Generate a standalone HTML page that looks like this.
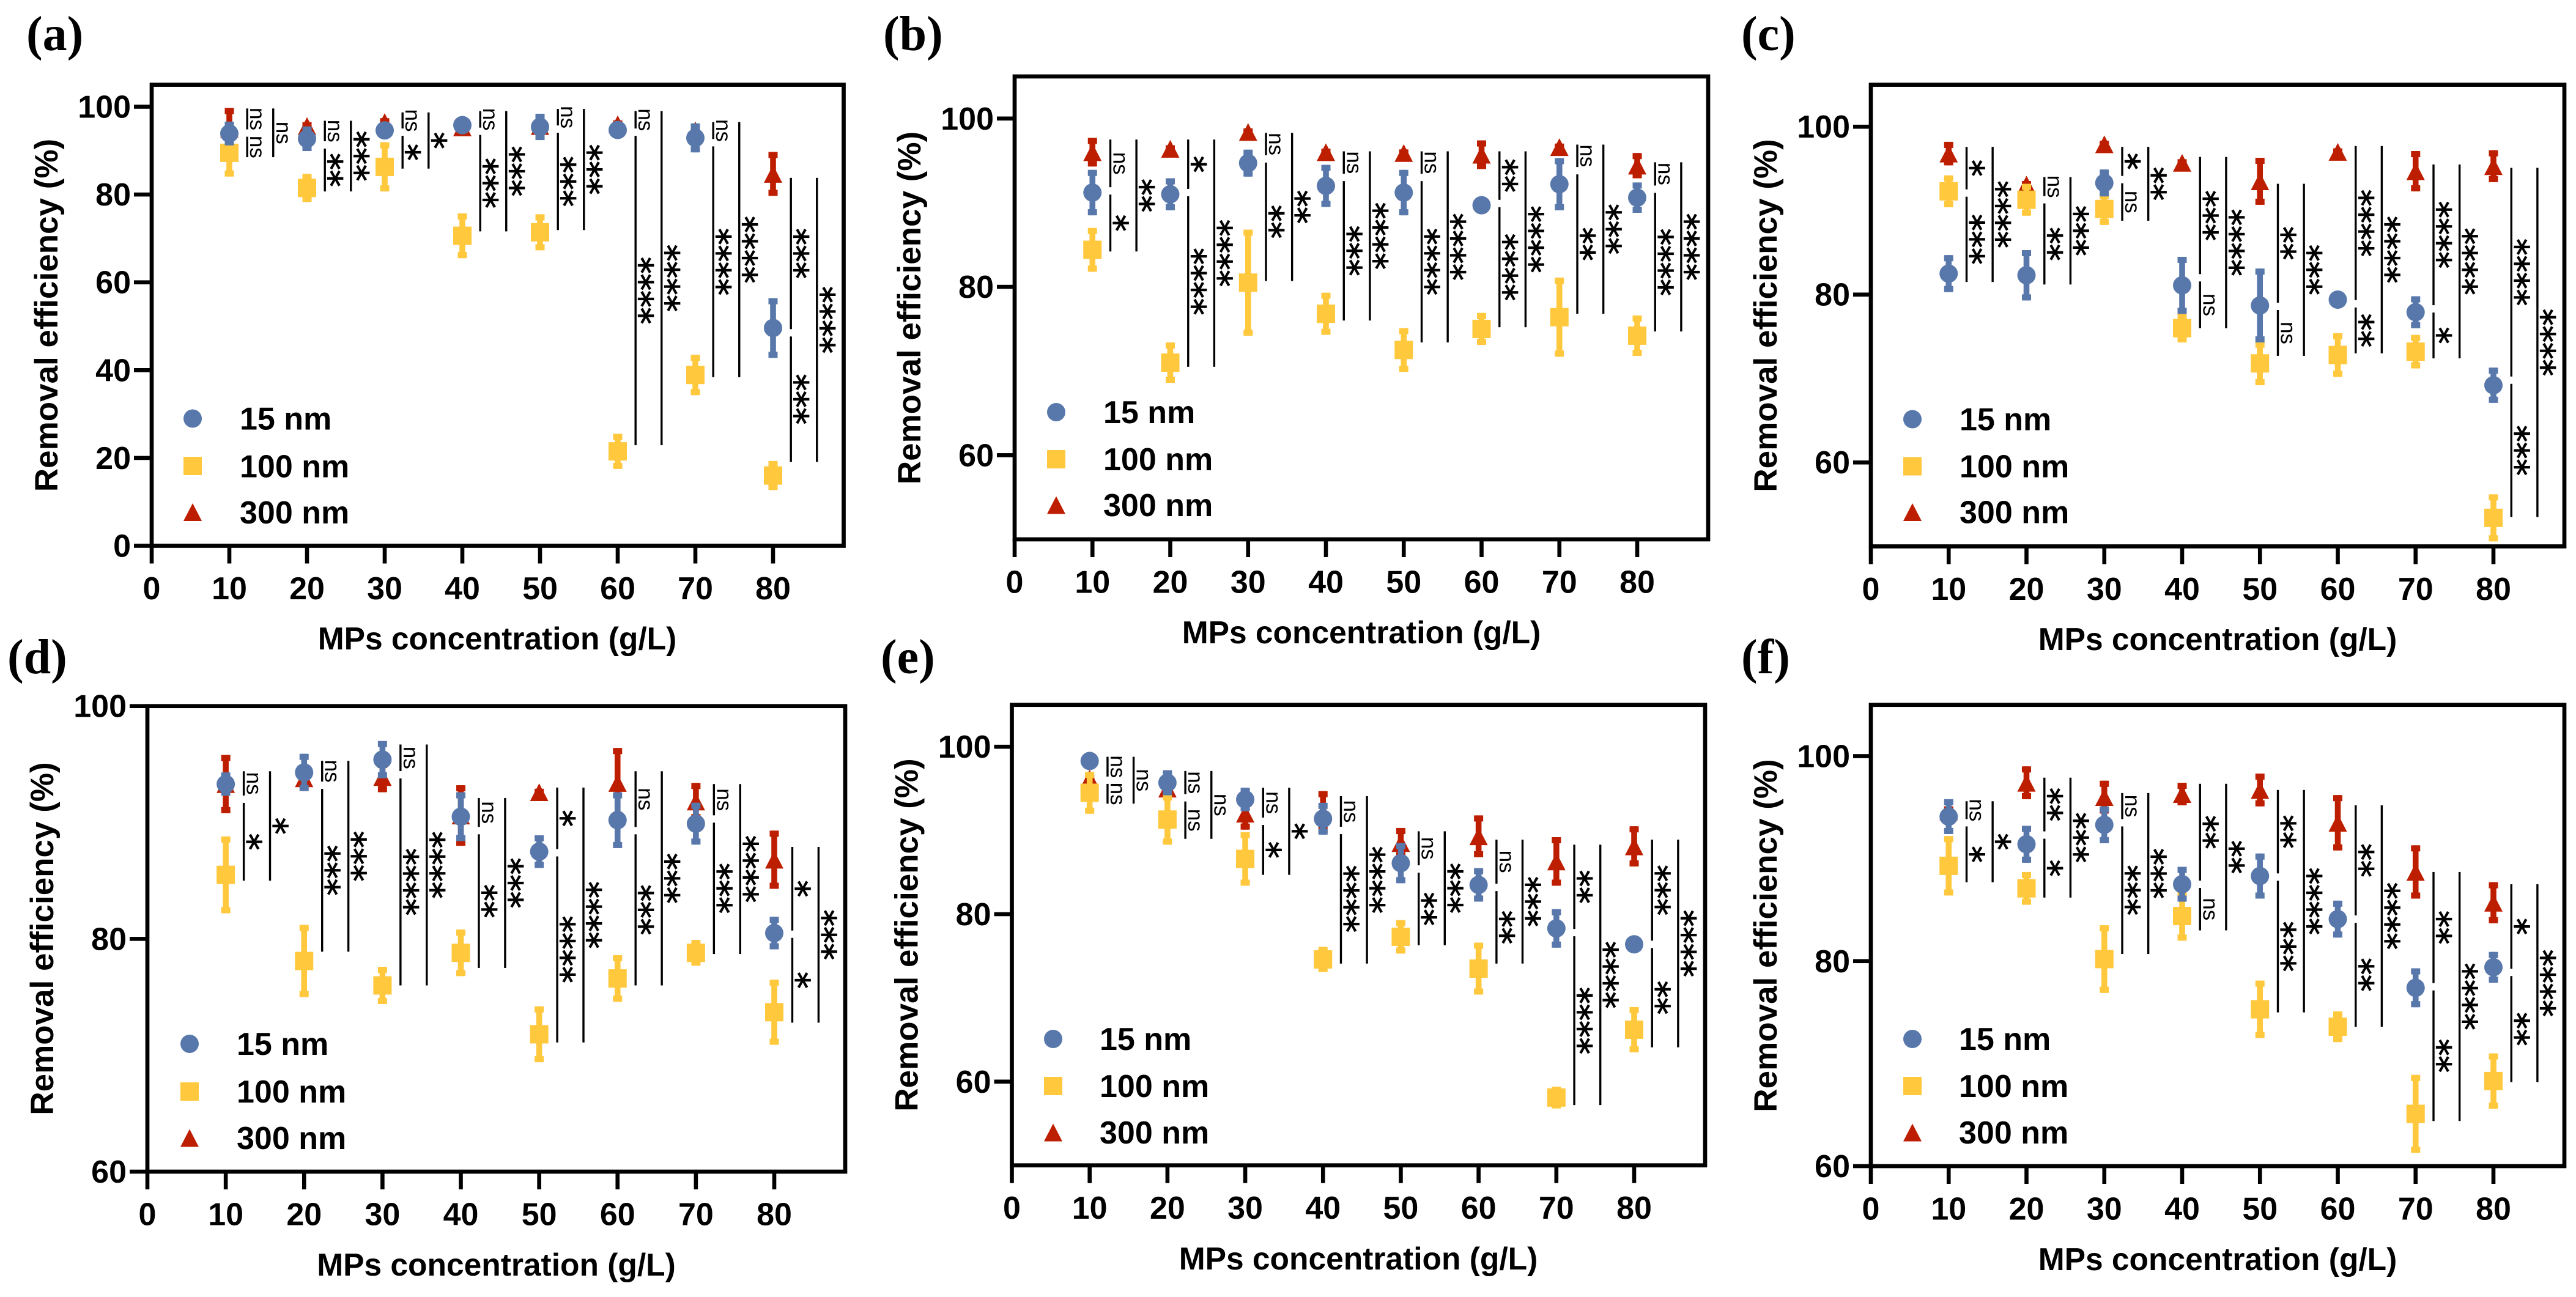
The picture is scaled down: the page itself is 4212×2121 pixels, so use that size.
<!DOCTYPE html>
<html lang="en">
<head>
<meta charset="utf-8">
<title>Removal efficiency versus MPs concentration</title>
<style>
html,body{margin:0;padding:0;background:#fff}
svg{display:block}
text{font-family:"Liberation Sans",Arial,sans-serif}
.title-x{font-size:51.5px;font-weight:700;fill:#000}
.title-y{font-size:53px;font-weight:700;fill:#000}
.legend-label{font-size:52px;font-weight:700;fill:#000}
.tick-label{font-size:52px;font-weight:700;fill:#000}
.panel-label{font-family:"Liberation Serif",serif;font-size:80px;font-weight:700;fill:#000}
.frame{fill:none;stroke:#000;stroke-width:6.7}
.ns{font-size:35px;fill:#000}
.stars{font-family:"DejaVu Sans",sans-serif;font-size:55px;fill:#000;stroke:#000;stroke-width:1.3}
</style>
</head>
<body>
<svg id="figure" xmlns="http://www.w3.org/2000/svg" width="4212" height="2121" viewBox="0 0 4212 2121">
<rect width="4212" height="2121" fill="#fff"/>

<g id="panel-a">
<text class="panel-label" x="43" y="82">(a)</text>
<rect class="frame" x="248" y="138.6" width="1131.5" height="753.9"/>
<text class="title-y" text-anchor="middle" transform="translate(94,515.5) rotate(-90)">Removal efficiency (%)</text>
<text class="title-x" text-anchor="middle" x="813" y="1062">MPs concentration (g/L)</text>
<g>
<circle cx="315" cy="684.5" r="15" fill="#5878AC"/>
<text class="legend-label" x="392" y="702.5">15 nm</text>
<rect x="300" y="747" width="30" height="30" fill="#FFC83D"/>
<text class="legend-label" x="392" y="780.5">100 nm</text>
<polygon points="315,823 330,852 300,852" fill="#BE1E00"/>
<text class="legend-label" x="392" y="856">300 nm</text>
</g>
</g>

<g id="panel-b">
<text class="panel-label" x="1444" y="82">(b)</text>
<rect class="frame" x="1659" y="125" width="1134" height="757"/>
<text class="title-y" text-anchor="middle" transform="translate(1505,503.5) rotate(-90)">Removal efficiency (%)</text>
<text class="title-x" text-anchor="middle" x="2226" y="1052">MPs concentration (g/L)</text>
<g>
<circle cx="1727" cy="674" r="15" fill="#5878AC"/>
<text class="legend-label" x="1804" y="692">15 nm</text>
<rect x="1712" y="736" width="30" height="30" fill="#FFC83D"/>
<text class="legend-label" x="1804" y="769">100 nm</text>
<polygon points="1727,811.5 1742,840.5 1712,840.5" fill="#BE1E00"/>
<text class="legend-label" x="1804" y="844">300 nm</text>
</g>
</g>

<g id="panel-c">
<text class="panel-label" x="2847" y="82">(c)</text>
<rect class="frame" x="3059" y="138.6" width="1134" height="754.9"/>
<text class="title-y" text-anchor="middle" transform="translate(2905,516) rotate(-90)">Removal efficiency (%)</text>
<text class="title-x" text-anchor="middle" x="3626" y="1063">MPs concentration (g/L)</text>
<g>
<circle cx="3127" cy="685.5" r="15" fill="#5878AC"/>
<text class="legend-label" x="3204" y="703.5">15 nm</text>
<rect x="3112" y="747.5" width="30" height="30" fill="#FFC83D"/>
<text class="legend-label" x="3204" y="780.5">100 nm</text>
<polygon points="3127,823 3142,852 3112,852" fill="#BE1E00"/>
<text class="legend-label" x="3204" y="855.5">300 nm</text>
</g>
</g>

<g id="panel-d">
<text class="panel-label" x="12" y="1101">(d)</text>
<rect class="frame" x="241" y="1154.7" width="1141" height="761.3"/>
<text class="title-y" text-anchor="middle" transform="translate(87,1535) rotate(-90)">Removal efficiency (%)</text>
<text class="title-x" text-anchor="middle" x="811.5" y="2086">MPs concentration (g/L)</text>
<g>
<circle cx="310" cy="1707" r="15" fill="#5878AC"/>
<text class="legend-label" x="387" y="1725">15 nm</text>
<rect x="295" y="1770" width="30" height="30" fill="#FFC83D"/>
<text class="legend-label" x="387" y="1803">100 nm</text>
<polygon points="310,1846.5 325,1875.5 295,1875.5" fill="#BE1E00"/>
<text class="legend-label" x="387" y="1879">300 nm</text>
</g>
</g>

<g id="panel-e">
<text class="panel-label" x="1440" y="1101">(e)</text>
<rect class="frame" x="1654.5" y="1152.7" width="1133.5" height="753"/>
<text class="title-y" text-anchor="middle" transform="translate(1500.5,1529) rotate(-90)">Removal efficiency (%)</text>
<text class="title-x" text-anchor="middle" x="2221" y="2076">MPs concentration (g/L)</text>
<g>
<circle cx="1722" cy="1699" r="15" fill="#5878AC"/>
<text class="legend-label" x="1798" y="1717">15 nm</text>
<rect x="1707" y="1761" width="30" height="30" fill="#FFC83D"/>
<text class="legend-label" x="1798" y="1794">100 nm</text>
<polygon points="1722,1837.5 1737,1866.5 1707,1866.5" fill="#BE1E00"/>
<text class="legend-label" x="1798" y="1870">300 nm</text>
</g>
</g>

<g id="panel-f">
<text class="panel-label" x="2847" y="1101">(f)</text>
<rect class="frame" x="3059" y="1152.7" width="1134" height="754.3"/>
<text class="title-y" text-anchor="middle" transform="translate(2905,1530) rotate(-90)">Removal efficiency (%)</text>
<text class="title-x" text-anchor="middle" x="3626" y="2077">MPs concentration (g/L)</text>
<g>
<circle cx="3127" cy="1699" r="15" fill="#5878AC"/>
<text class="legend-label" x="3203" y="1717">15 nm</text>
<rect x="3112" y="1761" width="30" height="30" fill="#FFC83D"/>
<text class="legend-label" x="3203" y="1794">100 nm</text>
<polygon points="3127,1837.5 3142,1866.5 3112,1866.5" fill="#BE1E00"/>
<text class="legend-label" x="3203" y="1870">300 nm</text>
</g>
</g>
</svg>

<script>
// Shared categories and x ticks
const categories = [10, 20, 30, 40, 50, 60, 70, 80];
const xTicks = [0, 10, 20, 30, 40, 50, 60, 70, 80];
const yTicksA = [0, 20, 40, 60, 80, 100];
const yTicksOther = [60, 80, 100];

// Panel (a)
const a15Mean = [93.9, 92.7, 94.6, 95.8, 95.4, 94.7, 92.9, 49.6];
const a15Err = [2.7, 2.8, 1, 0.5, 3, 0.5, 3.3, 6.8];
const a100Mean = [89.5, 81.5, 86.3, 70.6, 71.4, 21.5, 38.9, 16];
const a100Err = [5.4, 3.2, 5.6, 5.1, 4.1, 4, 4.6, 3.3];
const a300Mean = [95, 95.6, 96.5, 95.3, 95.6, 96, 94.6, 84.7];
const a300Err = [4.7, 0.5, 0.5, 0.5, 0.5, 0.5, 1, 5];
const aSigTop = [99.6, 96.8, 98.7, 99, 99.5, 99, 96.5, 83.8];
const aSigSplit = [94, 91.3, 94.2, 94.4, 94.9, 94.2, 91.8, 48.5];
const aSigBottom = [88.5, 80.7, 85.9, 71.6, 71.9, 22.9, 38.4, 19.1];
const aSigUpper = ['ns', 'ns', 'ns', 'ns', 'ns', 'ns', 'ns', '***'];
const aSigLower = ['ns', '**', '*', '***', '***', '****', '****', '***'];
const aSigOuter = ['ns', '***', '*', '***', '***', '****', '****', '****'];

// Panel (b)
const b15Mean = [91.2, 91, 94.7, 92, 91.2, 89.7, 92.2, 90.6];
const b15Err = [2.7, 1.9, 1.6, 2.5, 2.7, 0.3, 3.1, 1.8];
const b100Mean = [84.4, 71, 80.5, 76.8, 72.5, 75, 76.4, 74.2];
const b100Err = [2.6, 2.4, 6.3, 2.5, 2.6, 1.9, 4.7, 2.4];
const b300Mean = [96, 96.4, 98.4, 96, 95.9, 95.7, 96.6, 94.4];
const b300Err = [1.7, 0.3, 0.3, 0.3, 0.3, 1.7, 0.3, 1.5];
const bSigTop = [97.5, 97.5, 98.3, 96.1, 96.1, 96.1, 96.9, 94.8];
const bSigSplit = [91.4, 91.2, 95.2, 93, 93, 89.9, 93.8, 91.6];
const bSigBottom = [84.2, 70.5, 80.7, 76, 73.4, 75.2, 76.8, 74.7];
const bSigUpper = ['ns', '*', 'ns', 'ns', 'ns', '**', 'ns', 'ns'];
const bSigLower = ['*', '****', '**', '***', '****', '****', '**', '****'];
const bSigOuter = ['**', '****', '**', '****', '****', '****', '***', '****'];

// Panel (c)
const c15Mean = [82.5, 82.3, 93.3, 81.1, 78.7, 79.4, 77.9, 69.2];
const c15Err = [2.2, 3, 1.6, 3.4, 4.4, 0.3, 1.9, 2.1];
const c100Mean = [92.3, 91.3, 90.2, 76, 71.8, 72.8, 73.2, 53.4];
const c100Err = [1.9, 1.9, 1.9, 1.7, 2.6, 2.6, 2, 2.8];
const c300Mean = [96.8, 93.1, 97.9, 95.7, 93.5, 97, 94.7, 95.3];
const c300Err = [1.4, 0.3, 0.3, 0.3, 2.8, 0.3, 2.4, 1.9];
const cSigTop = [97.6, 94, 97.6, 96.4, 93.2, 97.7, 95.5, 95.1];
const cSigSplit = [92.1, 91.3, 93.7, 82, 78.6, 78.9, 78.3, 69.8];
const cSigBottom = [81.5, 81.2, 88.8, 76, 72.7, 73, 72.4, 53.5];
const cSigUpper = ['*', 'ns', '*', '***', '**', '****', '****', '****'];
const cSigLower = ['***', '**', 'ns', 'ns', 'ns', '**', '*', '***'];
const cSigOuter = ['****', '***', '**', '****', '***', '****', '****', '****'];

// Panel (d)
const d15Mean = [93.3, 94.3, 95.4, 90.5, 87.5, 90.2, 89.9, 80.5];
const d15Err = [1, 1.6, 1.6, 2.1, 1.4, 2.4, 1.8, 1.4];
const d100Mean = [85.5, 78.1, 76, 78.8, 71.8, 76.6, 78.8, 73.7];
const d100Err = [3.3, 3.1, 1.6, 2, 2.4, 2, 1.1, 2.8];
const d300Mean = [93.3, 93.8, 93.9, 90.6, 92.6, 93.4, 91.8, 86.8];
const d300Err = [2.5, 0.5, 1.3, 2.6, 0.3, 3, 1.6, 2.5];
const dSigTop = [94.4, 95.3, 96.7, 92.1, 93, 94.4, 93.3, 87.9];
const dSigSplit = [92, 93.2, 94.1, 89.3, 87.4, 89.3, 90.3, 80.4];
const dSigBottom = [85, 78.9, 76, 77.5, 71.1, 76, 78.7, 72.8];
const dSigUpper = ['ns', 'ns', 'ns', 'ns', '*', 'ns', 'ns', '*'];
const dSigLower = ['*', '***', '****', '**', '****', '***', '***', '*'];
const dSigOuter = ['*', '***', '****', '***', '****', '***', '****', '***'];

// Panel (e)
const e15Mean = [98.3, 95.7, 93.7, 91.4, 86.1, 83.5, 78.3, 76.4];
const e15Err = [0.3, 1.5, 1.4, 1.9, 2.4, 2, 2.3, 0.3];
const e100Mean = [94.5, 91.3, 86.6, 74.6, 77.3, 73.5, 58.1, 66.2];
const e100Err = [2.5, 3, 3.2, 1.5, 2, 3.1, 1.3, 2.7];
const e300Mean = [96.2, 95, 92, 92.2, 88.5, 89.3, 86.3, 88.1];
const e300Err = [0.5, 0.5, 1.9, 2.5, 1.8, 2.5, 2.9, 2.4];
const eSigTop = [98.8, 97.1, 95.1, 94.1, 89.9, 88.9, 88.3, 88.9];
const eSigSplit = [96, 93.9, 91.1, 90, 85.4, 83.2, 77.8, 76.4];
const eSigBottom = [93.2, 89, 84.7, 74.1, 76.3, 74.1, 57.2, 64.1];
const eSigUpper = ['ns', 'ns', 'ns', 'ns', 'ns', 'ns', '**', '***'];
const eSigLower = ['ns', 'ns', '*', '****', '**', '**', '****', '**'];
const eSigOuter = ['ns', 'ns', '*', '****', '***', '***', '****', '****'];

// Panel (f)
const f15Mean = [94.1, 91.4, 93.3, 87.5, 88.3, 84.1, 77.4, 79.4];
const f15Err = [1.7, 1.8, 1.8, 1.7, 2.2, 1.8, 1.9, 1.5];
const f100Mean = [89.3, 87.1, 80.2, 84.4, 75.3, 73.6, 65.1, 68.3];
const f100Err = [2.9, 1.6, 3.3, 2.4, 2.8, 1.5, 3.8, 2.7];
const f300Mean = [94.6, 97.4, 96, 96.3, 96.7, 93.5, 88.7, 85.7];
const f300Err = [0.5, 1.6, 1.6, 1.1, 1.6, 2.7, 2.6, 2];
const fSigTop = [95.6, 97.9, 96.4, 97.3, 96.7, 95.2, 88.7, 87.5];
const fSigSplit = [93.5, 92.3, 93.5, 87.5, 88.2, 84.1, 77.5, 78.9];
const fSigBottom = [87.7, 86.2, 80.7, 83, 75, 73.6, 64.4, 68.2];
const fSigUpper = ['ns', '**', 'ns', '**', '**', '**', '**', '*'];
const fSigLower = ['*', '*', '***', 'ns', '***', '**', '**', '**'];
const fSigOuter = ['*', '***', '***', '**', '****', '****', '****', '****'];

const COLOR_15 = '#5878AC';
const COLOR_100 = '#FFC83D';
const COLOR_300 = '#BE1E00';

const panels = [
  {id: 'a', left: 248, right: 1379.5, top: 138.6, bottom: 892.5, x80: 1264, yMin: 0, yMax: 105, yTicks: yTicksA,
   m15: a15Mean, e15: a15Err, m100: a100Mean, e100: a100Err, m300: a300Mean, e300: a300Err,
   sTop: aSigTop, sSplit: aSigSplit, sBottom: aSigBottom, lUp: aSigUpper, lLow: aSigLower, lOut: aSigOuter},
  {id: 'b', left: 1659, right: 2793, top: 125, bottom: 882, x80: 2677, yMin: 50, yMax: 105, yTicks: yTicksOther,
   m15: b15Mean, e15: b15Err, m100: b100Mean, e100: b100Err, m300: b300Mean, e300: b300Err,
   sTop: bSigTop, sSplit: bSigSplit, sBottom: bSigBottom, lUp: bSigUpper, lLow: bSigLower, lOut: bSigOuter},
  {id: 'c', left: 3059, right: 4193, top: 138.6, bottom: 893.5, x80: 4077, yMin: 50, yMax: 105, yTicks: yTicksOther,
   m15: c15Mean, e15: c15Err, m100: c100Mean, e100: c100Err, m300: c300Mean, e300: c300Err,
   sTop: cSigTop, sSplit: cSigSplit, sBottom: cSigBottom, lUp: cSigUpper, lLow: cSigLower, lOut: cSigOuter},
  {id: 'd', left: 241, right: 1382, top: 1154.7, bottom: 1916, x80: 1266, yMin: 60, yMax: 100, yTicks: yTicksOther,
   m15: d15Mean, e15: d15Err, m100: d100Mean, e100: d100Err, m300: d300Mean, e300: d300Err,
   sTop: dSigTop, sSplit: dSigSplit, sBottom: dSigBottom, lUp: dSigUpper, lLow: dSigLower, lOut: dSigOuter},
  {id: 'e', left: 1654.5, right: 2788, top: 1152.7, bottom: 1905.7, x80: 2672, yMin: 50, yMax: 105, yTicks: yTicksOther,
   m15: e15Mean, e15: e15Err, m100: e100Mean, e100: e100Err, m300: e300Mean, e300: e300Err,
   sTop: eSigTop, sSplit: eSigSplit, sBottom: eSigBottom, lUp: eSigUpper, lLow: eSigLower, lOut: eSigOuter},
  {id: 'f', left: 3059, right: 4193, top: 1152.7, bottom: 1907, x80: 4077, yMin: 60, yMax: 105, yTicks: yTicksOther,
   m15: f15Mean, e15: f15Err, m100: f100Mean, e100: f100Err, m300: f300Mean, e300: f300Err,
   sTop: fSigTop, sSplit: fSigSplit, sBottom: fSigBottom, lUp: fSigUpper, lLow: fSigLower, lOut: fSigOuter}
];

const NS = 'http://www.w3.org/2000/svg';
function mk(parent, tag, props) {
  const node = document.createElementNS(NS, tag);
  for (const k in props) node.setAttribute(k, props[k]);
  parent.appendChild(node);
  return node;
}

function drawErrorBar(g, x, yHigh, yLow, color) {
  const stem = mk(g, 'rect', {x: x - 4.8, y: yHigh, width: 9.6, height: yLow - yHigh, fill: color});
  
  
  const capTop = mk(g, 'rect', {x: x - 7.5, y: yHigh, width: 15, height: 10, fill: color});
  
  
  const capBottom = mk(g, 'rect', {x: x - 7.5, y: yLow - 10, width: 15, height: 10, fill: color});
  
  
}

function drawBracket(g, x, yA, yB) {
  const line = mk(g, 'rect', {x: x - 1.7, y: yA, width: 3.4, height: Math.max(0, yB - yA), fill: '#000'});
  
  
}

function drawSigLabel(g, x, yA, yB, label) {
  const isNs = label === 'ns';
  const offset = isNs ? 5 : -11.5;
  const t = mk(g, 'text', {
    class: isNs ? 'ns' : 'stars',
    'text-anchor': 'middle',
    transform: 'translate(' + (x + offset) + ',' + ((yA + yB) / 2) + ') rotate(90)'
  });
  
  
  t.textContent = label;
}

panels.forEach(function (p) {
  const root = document.getElementById('panel-' + p.id);
  const xScale = function (v) { return p.left + (p.x80 - p.left) * v / 80; };
  const yScale = function (v) { return p.bottom - (p.bottom - p.top) * (v - p.yMin) / (p.yMax - p.yMin); };

  // Axis ticks and labels
  const axes = mk(root, 'g', {});
  
  
  xTicks.forEach(function (v) {
    const tick = mk(axes, 'rect', {x: xScale(v) - 3.3, y: p.bottom, width: 6.6, height: 29, fill: '#000'});
    
    
    const lab = mk(axes, 'text', {class: 'tick-label', 'text-anchor': 'middle', x: xScale(v), y: p.bottom + 87.5});
    
    
    lab.textContent = v;
  });
  p.yTicks.forEach(function (v) {
    const tick = mk(axes, 'rect', {x: p.left - 29, y: yScale(v) - 3.3, width: 29, height: 6.6, fill: '#000'});
    
    
    const lab = mk(axes, 'text', {class: 'tick-label', 'text-anchor': 'end', x: p.left - 34, y: yScale(v) + 18});
    
    
    lab.textContent = v;
  });

  // Series drawn back to front: 300 nm, 100 nm, 15 nm
  const s300 = mk(root, 'g', {});
  
  
  const s100 = mk(root, 'g', {});
  
  
  const s15 = mk(root, 'g', {});
  
  

  categories.forEach(function (c, i) {
    const x = xScale(c);

    const y3 = yScale(p.m300[i]);
    drawErrorBar(s300, x, yScale(p.m300[i] + p.e300[i]), yScale(p.m300[i] - p.e300[i]), COLOR_300);
    const tri = mk(s300, 'polygon', {
      points: x + ',' + (y3 - 14.5) + ' ' + (x + 15) + ',' + (y3 + 14.5) + ' ' + (x - 15) + ',' + (y3 + 14.5),
      fill: COLOR_300
    });
    
    

    const y1 = yScale(p.m100[i]);
    drawErrorBar(s100, x, yScale(p.m100[i] + p.e100[i]), yScale(p.m100[i] - p.e100[i]), COLOR_100);
    const sq = mk(s100, 'rect', {x: x - 15, y: y1 - 15, width: 30, height: 30, fill: COLOR_100});
    
    

    const y0 = yScale(p.m15[i]);
    drawErrorBar(s15, x, yScale(p.m15[i] + p.e15[i]), yScale(p.m15[i] - p.e15[i]), COLOR_15);
    const dot = mk(s15, 'circle', {cx: x, cy: y0, r: 15, fill: COLOR_15});
    
    
  });

  // Significance brackets
  const sig = mk(root, 'g', {});
  
  
  categories.forEach(function (c, i) {
    const x1 = xScale(c + 2.3);
    const x2 = xScale(c + 5.65);
    const yT = yScale(p.sTop[i]);
    const yS = yScale(p.sSplit[i]);
    const yB = yScale(p.sBottom[i]);
    drawBracket(sig, x1, yT, yS - 6);
    drawSigLabel(sig, x1, yT, yS - 6, p.lUp[i]);
    drawBracket(sig, x1, yS + 6, yB);
    drawSigLabel(sig, x1, yS + 6, yB, p.lLow[i]);
    drawBracket(sig, x2, yT, yB);
    drawSigLabel(sig, x2, yT, yB, p.lOut[i]);
  });
});
</script>
</body>
</html>
